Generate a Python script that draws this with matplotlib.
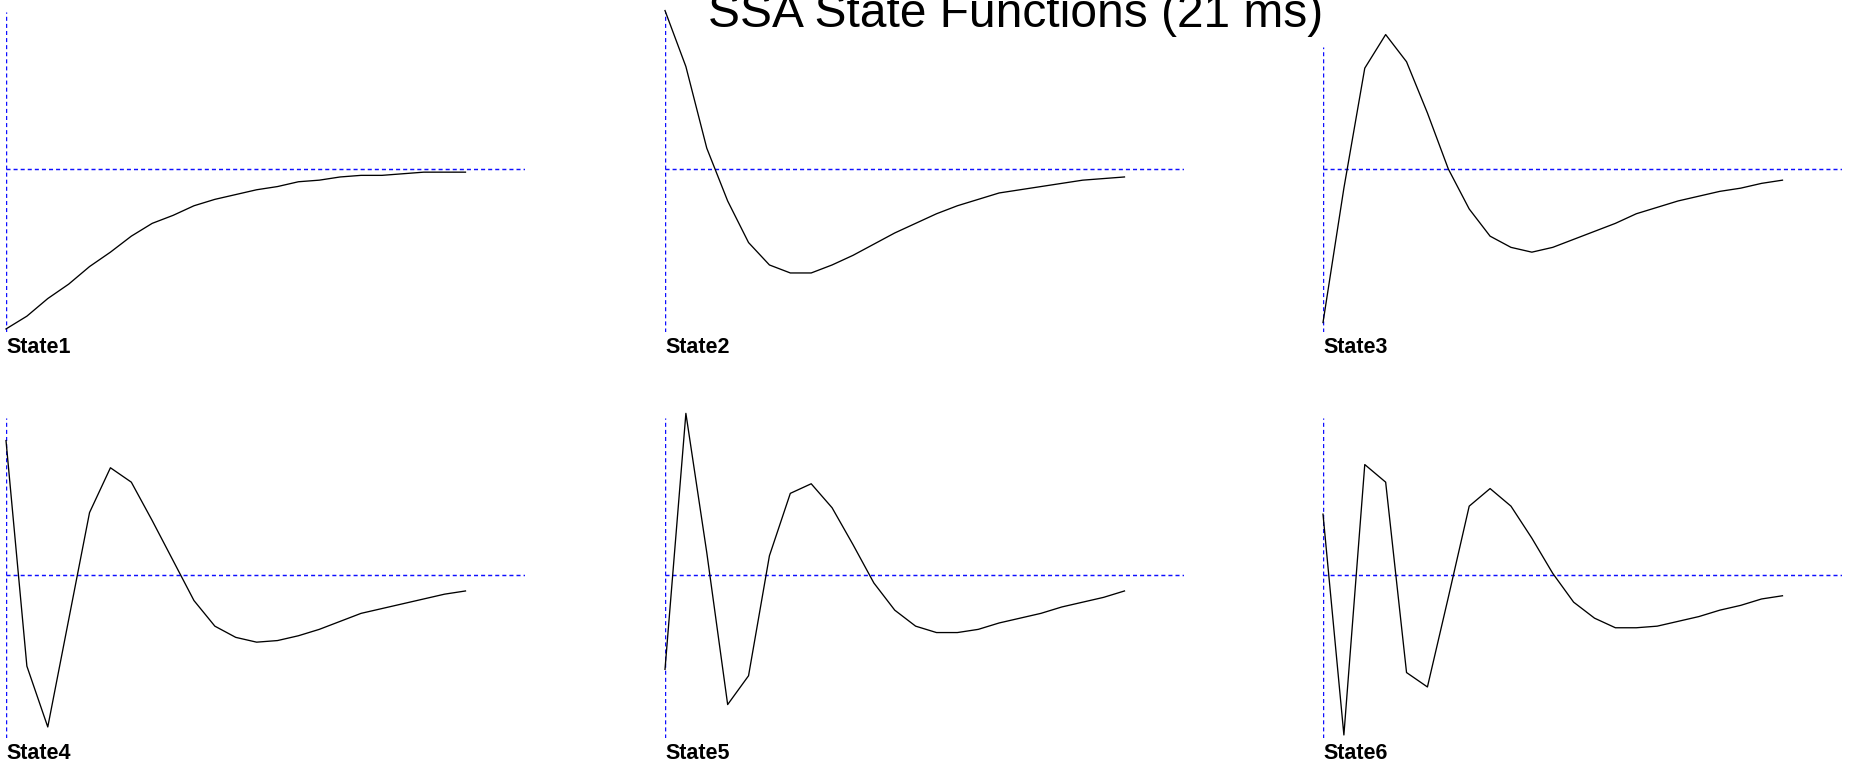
import matplotlib
matplotlib.use("Agg")
import matplotlib.pyplot as plt
from matplotlib import font_manager

plt.rcParams["lines.scale_dashes"] = False

# sample index (one point per state function sample)
samples = list(range(23))

state1 = [-1.00, -0.92, -0.81, -0.72, -0.61, -0.52, -0.42, -0.34, -0.29, -0.23, -0.19, -0.16,
          -0.13, -0.11, -0.08, -0.07, -0.05, -0.04, -0.04, -0.03, -0.02, -0.02, -0.02]
state2 = [0.99, 0.64, 0.13, -0.20, -0.46, -0.60, -0.65, -0.65, -0.60, -0.54, -0.47, -0.40,
          -0.34, -0.28, -0.23, -0.19, -0.15, -0.13, -0.11, -0.09, -0.07, -0.06, -0.05]
state3 = [-0.96, -0.12, 0.63, 0.84, 0.67, 0.35, 0.00, -0.25, -0.42, -0.49, -0.52, -0.49,
          -0.44, -0.39, -0.34, -0.28, -0.24, -0.20, -0.17, -0.14, -0.12, -0.09, -0.07]
state4 = [0.84, -0.57, -0.95, -0.28, 0.39, 0.67, 0.58, 0.34, 0.09, -0.16, -0.32, -0.39,
          -0.42, -0.41, -0.38, -0.34, -0.29, -0.24, -0.21, -0.18, -0.15, -0.12, -0.10]
state5 = [-0.59, 1.01, 0.14, -0.81, -0.63, 0.12, 0.51, 0.57, 0.42, 0.19, -0.05, -0.22,
          -0.32, -0.36, -0.36, -0.34, -0.30, -0.27, -0.24, -0.20, -0.17, -0.14, -0.10]
state6 = [0.38, -1.00, 0.69, 0.58, -0.61, -0.70, -0.14, 0.43, 0.54, 0.43, 0.23, 0.01,
          -0.17, -0.27, -0.33, -0.33, -0.32, -0.29, -0.26, -0.22, -0.19, -0.15, -0.13]

labels = ["State1", "State2", "State3", "State4", "State5", "State6"]
series = [state1, state2, state3, state4, state5, state6]

W, H = 1855, 764
AXIS_BLUE = "#0f0fff"
DASH = (0, (2.9, 2.2))

# narrow face for the panel captions, if one is installed
installed = {f.name for f in font_manager.fontManager.ttflist}
label_family = [f for f in ("Liberation Sans Narrow", "DejaVu Sans Condensed")
                if f in installed] or ["Liberation Sans"]
label_stretch = "normal" if label_family[0] != "Liberation Sans" else "condensed"

fig = plt.figure(figsize=(W / 100, H / 100), dpi=100)

col_left = [6, 665, 1323]
row_top = [12, 418]
panel_w, panel_h = 519, 320


def px_axes(left, top, width, height):
    return fig.add_axes([left / W, 1 - (top + height) / H, width / W, height / H])


for i, (name, vals) in enumerate(zip(labels, series)):
    ax = px_axes(col_left[i % 3], row_top[i // 3], panel_w, panel_h)
    ax.set_xlim(0, 24.85)
    ax.set_ylim(-1.019, 0.981)
    ax.axis("off")

    ax.axhline(0, color=AXIS_BLUE, lw=1.05, linestyle=DASH)
    # third panel's axis line is cut short under the title
    ax.axvline(0, ymax=0.89 if i == 2 else 1.0, color=AXIS_BLUE, lw=1.05, linestyle=DASH)
    ax.plot(samples, vals, color="black", lw=0.95, clip_on=False)

    ax.annotate(name, xy=(0, 0), xycoords="axes fraction",
                xytext=(0, -3.6), textcoords="offset points",
                ha="left", va="top", fontsize=15.5, fontweight="bold",
                family=label_family, fontstretch=label_stretch)

fig.text(1016 / W, 1 - 27 / H, "SSA State Functions (21 ms)",
         ha="center", va="baseline", fontsize=34.5, family="Liberation Sans")

fig.savefig("out.png", dpi=100, facecolor="white")
